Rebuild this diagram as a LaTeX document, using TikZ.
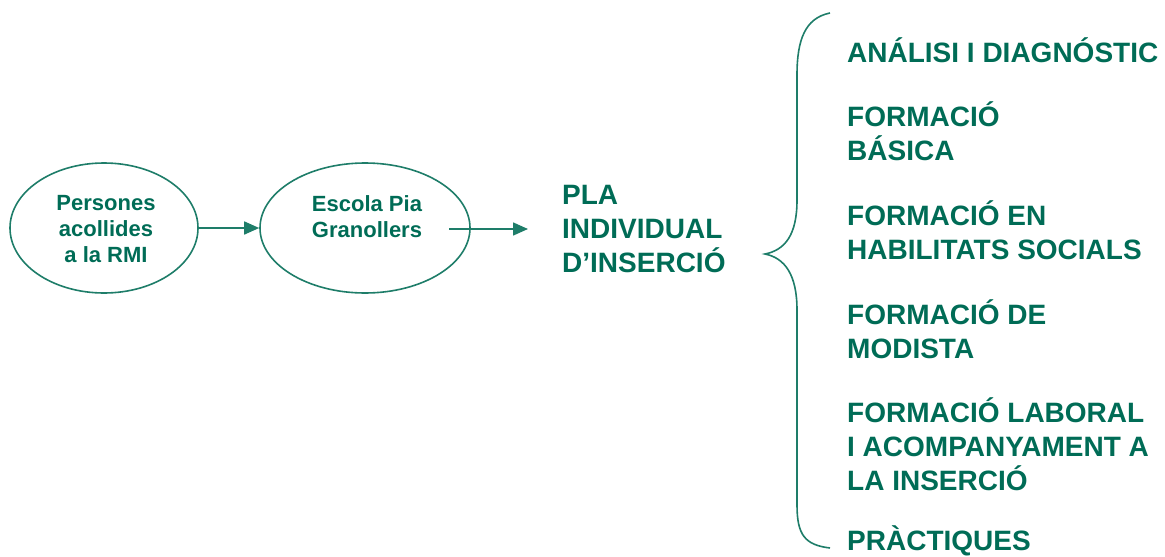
\documentclass[tikz,border=0pt]{standalone}
\usepackage{fontspec}
\setmainfont{Liberation Sans}
\usetikzlibrary{shapes.geometric,arrows.meta}
\definecolor{teal}{RGB}{0,108,86}
\definecolor{lineteal}{RGB}{30,125,105}
\tikzset{
  oval/.style={ellipse,draw=lineteal,line width=1.6pt,minimum width=#1,minimum height=130pt,inner sep=0pt},
  ovaltext/.style={font=\fontsize{22}{26}\selectfont\bfseries,text=teal,align=center},
  bigtext/.style={font=\fontsize{28}{34}\selectfont\bfseries,text=teal,align=left,anchor=west,inner sep=0pt},
  conn/.style={draw=lineteal,line width=1.6pt,-{Triangle[length=15pt,width=13pt]}},
}
\begin{document}
\begin{tikzpicture}[x=1pt,y=-1pt]
\useasboundingbox (0,0) rectangle (1165,557);
\node[oval=188pt] (e1) at (104,228) {};
\node[ovaltext] (t1) at (106,229) {Persones\\acollides\\a la RMI};
\node[oval=210pt] (e2) at (365,228) {};
\node[ovaltext] (t2) at (367,217) {Escola Pia\\Granollers};
\draw[conn] (e1.east) -- (e2.west);
\coordinate (a2s) at (449,229);
\coordinate (a2e) at (528,229);
\node[bigtext] (pla) at (562,229) {PLA\\INDIVIDUAL\\D’INSERCIÓ};
\draw[conn] (a2s) -- (a2e);
% brace
\coordinate (bt) at (830,13);
\coordinate (tip) at (765,254);
\coordinate (bb) at (830,548);
\draw[draw=lineteal,line width=1.6pt] (bt) .. controls (805,18) and (797,40) .. (797,75)
  -- (797,200) .. controls (797,235) and (785,250) .. (tip)
  .. controls (785,258) and (797,275) .. (797,310)
  -- (797,505) .. controls (797,535) and (805,545) .. (bb);
\node[bigtext] (i1) at (847,50) {ANÁLISI I DIAGNÓSTIC};
\node[bigtext] (i2) at (847,131) {FORMACIÓ\\BÁSICA};
\node[bigtext] (i3) at (847,230) {FORMACIÓ EN\\HABILITATS SOCIALS};
\node[bigtext] (i4) at (847,329) {FORMACIÓ DE\\MODISTA};
\node[bigtext] (i5) at (847,444) {FORMACIÓ LABORAL\\I ACOMPANYAMENT A\\LA INSERCIÓ};
\node[bigtext] (i6) at (847,541) {PRÀCTIQUES};
\end{tikzpicture}
\end{document}
